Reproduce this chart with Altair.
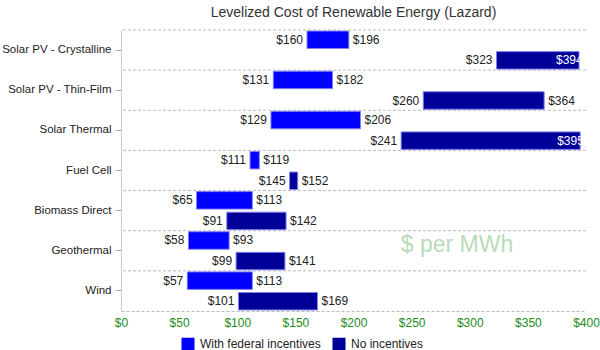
import altair as alt
import pandas as pd

categories = ["Solar PV - Crystalline", "Solar PV - Thin-Film", "Solar Thermal",
              "Fuel Cell", "Biomass Direct", "Geothermal", "Wind"]
series_names = ["With federal incentives", "No incentives"]
fed_low = [160, 131, 129, 111, 65, 58, 57]
fed_high = [196, 182, 206, 119, 113, 93, 113]
no_low = [323, 260, 241, 145, 91, 99, 101]
no_high = [394, 364, 395, 152, 142, 141, 169]
x_ticks = [0, 50, 100, 150, 200, 250, 300, 350, 400]
colors = ["#0000FF", "#000099"]

rows = []
for i, c in enumerate(categories):
    rows.append(dict(cat=c, series=series_names[0], low=fed_low[i], high=fed_high[i]))
    rows.append(dict(cat=c, series=series_names[1], low=no_low[i], high=no_high[i]))
df = pd.DataFrame(rows)

FONT = "Liberation Sans"

y_axis = alt.Axis(title=None, labelFontSize=11.5, labelColor="#222", domainColor="#ccc",
                  tickColor="#aaa", tickSize=6, labelPadding=4, grid=False, labelFont=FONT)
x_axis = alt.Axis(title=None, values=x_ticks, format="$.0f", labelColor="#228B22",
                  labelFontSize=12, domainColor="#bbb", domainDash=[3, 2], ticks=False,
                  grid=False, labelPadding=6, labelFlush=False, labelFont=FONT)


def Y():
    return alt.Y("cat:N", sort=categories, scale=alt.Scale(paddingInner=0, paddingOuter=0), axis=y_axis)


def YO():
    return alt.YOffset("series:N", sort=series_names,
                       scale=alt.Scale(domain=series_names, paddingInner=0.15, paddingOuter=0.05))


def X(field):
    return alt.X(f"{field}:Q", scale=alt.Scale(domain=[0, 400], nice=False), axis=x_axis)


base = alt.Chart(df)

bars = base.mark_bar(stroke="#8080f0", strokeWidth=1).encode(
    y=Y(), yOffset=YO(), x=X("low"), x2="high:Q",
    color=alt.Color("series:N", sort=series_names,
                    scale=alt.Scale(domain=series_names, range=colors),
                    legend=alt.Legend(title=None, orient="none", legendX=60, legendY=307,
                                      direction="horizontal", symbolType="square",
                                      symbolSize=170, symbolStrokeWidth=0, labelFontSize=12,
                                      labelColor="#222", columnPadding=11, labelOffset=5,
                                      labelFont=FONT)),
)

start_lbl = base.mark_text(align="right", dx=-4, fontSize=12, color="#222", font=FONT).encode(
    y=Y(), yOffset=YO(), x=X("low"), text=alt.Text("low:Q", format="$.0f"))

end_lbl = base.transform_filter("datum.high < 380").mark_text(
    align="left", dx=4, fontSize=12, color="#222", font=FONT).encode(
    y=Y(), yOffset=YO(), x=X("high"), text=alt.Text("high:Q", format="$.0f"))

end_in = base.transform_filter("datum.high >= 380").mark_text(
    align="left", dx=-23, fontSize=12, color="#ffffff", font=FONT, clip=True).encode(
    y=Y(), yOffset=YO(), x=X("high"), text=alt.Text("high:Q", format="$.0f"))

grid = alt.Chart(pd.DataFrame({"cat": categories})).mark_rule(
    strokeDash=[3, 2], color="#bbb", strokeWidth=1).encode(
    y=alt.Y("cat:N", sort=categories, bandPosition=0))

note = alt.Chart(pd.DataFrame({"label": ["$ per MWh"], "x": [289], "cat": ["Geothermal"]})).mark_text(
    fontSize=23, color="#b9dbb9", baseline="middle", font=FONT).encode(
    x=alt.X("x:Q"), y=alt.Y("cat:N", sort=categories, bandPosition=0.35), text="label:N")

chart = alt.layer(grid, bars, start_lbl, end_lbl, end_in, note).properties(
    width=465, height=281,
    autosize=alt.AutoSizeParams(type="none"),
    padding={"left": 121, "top": 30, "right": 14, "bottom": 39},
    title=alt.TitleParams("Levelized Cost of Renewable Energy (Lazard)", fontSize=14,
                          fontWeight="normal", color="#333", offset=10, font=FONT),
).configure_view(stroke=None)

chart.save("out.html", embed_options={"renderer": "svg", "actions": False})
